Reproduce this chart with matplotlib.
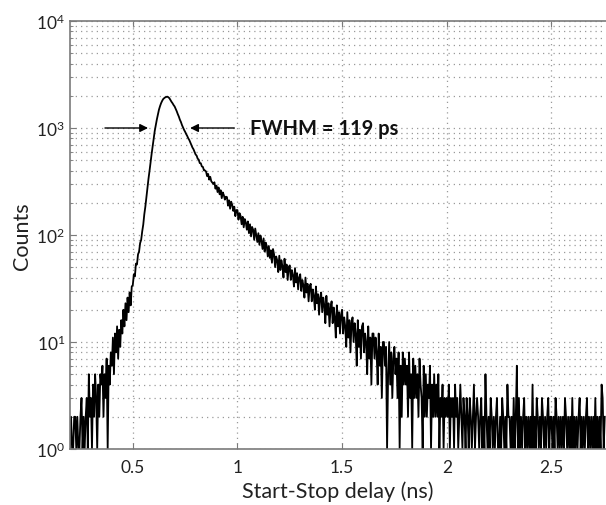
import numpy as np
import matplotlib
matplotlib.use("Agg")
import matplotlib.pyplot as plt

plt.rcParams['font.family'] = ['Lato', 'DejaVu Sans']
plt.rcParams['mathtext.fontset'] = 'custom'
plt.rcParams['mathtext.rm'] = 'Lato'
plt.rcParams['mathtext.it'] = 'Lato'
plt.rcParams['mathtext.bf'] = 'Lato:bold'

# histogram bins (ns)
bin_start = 0.200
bin_width = 0.005

# counts per bin, grouped per 0.05 ns
counts_rise_low = [
    1, 2, 1, 1, 2, 2, 1, 2, 1, 1,
    2, 3, 1, 2, 1, 2, 3, 1, 5, 2,
    3, 1, 4, 2, 5, 3, 1, 4, 2, 5,
    4, 6, 2, 5, 3, 7, 1, 6, 4, 8,
]
counts_rise = [
    6, 11, 5, 12, 8, 14, 7, 13, 9, 16,
    12, 20, 14, 23, 16, 26, 19, 29, 22, 33,
    34, 43, 41, 54, 53, 66, 70, 84, 90, 108,
    125, 156, 184, 226, 273, 335, 398, 482, 573, 682,
    798, 942, 1068, 1203, 1338, 1482, 1597, 1702, 1788, 1861,
]
counts_peak = [
    1902, 1934, 1951, 1963, 1938, 1897, 1826, 1757, 1703, 1638,
    1588, 1507, 1433, 1348, 1279, 1196, 1138, 1066, 1012, 961,
    922, 878, 843, 801, 772, 733, 694, 657, 633, 598,
    566, 552, 517, 506, 470, 468, 437, 433, 402, 401,
]
counts_decay = [
    392, 355, 372, 329, 350, 318, 309, 300, 311, 271,
    289, 252, 278, 240, 262, 221, 250, 236, 214, 228,
    226, 188, 211, 176, 205, 192, 168, 184, 150, 171,
    171, 139, 160, 151, 126, 148, 118, 141, 131, 112,
    134, 104, 126, 97, 119, 112, 90, 115, 99, 86,
    104, 81, 99, 88, 74, 93, 70, 85, 79, 63,
    79, 61, 72, 55, 74, 66, 50, 63, 58, 45,
    64, 47, 58, 51, 40, 60, 45, 53, 38, 50,
    52, 38, 47, 42, 33, 49, 36, 44, 31, 40,
    43, 30, 38, 34, 26, 40, 29, 35, 24, 33,
    35, 24, 31, 27, 20, 33, 23, 28, 18, 26,
    29, 19, 26, 22, 15, 27, 18, 23, 14, 21,
    24, 15, 21, 17, 11, 22, 14, 19, 12, 18,
    20, 12, 17, 14, 9, 19, 11, 16, 8, 15,
    17, 10, 15, 12, 6, 16, 9, 13, 7, 14,
    15, 8, 12, 10, 5, 14, 7, 11, 4, 12,
    12, 7, 11, 8, 4, 12, 6, 9, 3, 10,
    10, 6, 9, 1, 5, 10, 4, 8, 3, 7,
    9, 5, 7, 3, 8, 1, 6, 2, 8, 4,
    7, 4, 6, 2, 8, 3, 5, 1, 7, 3,
    6, 3, 5, 2, 7, 4, 3, 1, 6, 2,
    5, 2, 4, 3, 6, 1, 4, 2, 5, 2,
    4, 2, 5, 1, 3, 2, 4, 1, 3, 2,
]
counts_tail = [
    3, 2, 4, 1, 3, 2, 3, 1, 4, 2,
    3, 1, 2, 4, 2, 1, 3, 2, 1, 3,
    2, 1, 3, 2, 1, 2, 4, 1, 2, 3,
    2, 1, 2, 3, 1, 2, 1, 5, 2, 1,
    2, 1, 3, 2, 1, 2, 1, 2, 3, 1,
    1, 2, 1, 3, 2, 1, 2, 1, 4, 2,
    2, 1, 2, 1, 3, 1, 2, 6, 1, 3,
    1, 2, 1, 2, 3, 1, 2, 1, 2, 1,
    2, 1, 4, 1, 2, 1, 3, 2, 1, 2,
    1, 3, 2, 1, 2, 1, 2, 3, 1, 2,
    2, 1, 2, 1, 3, 2, 1, 2, 1, 2,
    1, 2, 1, 3, 2, 1, 2, 1, 2, 1,
    3, 1, 2, 1, 2, 1, 2, 3, 1, 2,
    1, 2, 1, 2, 3, 1, 2, 1, 2, 1,
    2, 1, 3, 1, 2, 1, 2, 1, 4, 3,
    1, 2,
]

counts = np.array(counts_rise_low + counts_rise + counts_peak + counts_decay + counts_tail, dtype=float)
delay = bin_start + bin_width * np.arange(len(counts))

x_ticks = [0.5, 1, 1.5, 2, 2.5]
x_ticklabels = ['0.5', '1', '1.5', '2', '2.5']
y_ticks = [1, 10, 100, 1000, 10000]
y_ticklabels = [r'$10^0$', r'$10^1$', r'$10^2$', r'$10^3$', r'$10^4$']

fwhm_label = 'FWHM = 119 ps'
x_label = 'Start-Stop delay (ns)'
y_label = 'Counts'

fig = plt.figure(figsize=(6.06, 5.06), dpi=100)
ax = fig.add_axes([70 / 606, 56 / 506, 536 / 606, 428 / 506])

ax.plot(delay, counts, color='black', linewidth=1.3)
ax.set_yscale('log')
ax.set_xlim(0.2, 2.761)
ax.set_ylim(1, 10000)

ax.set_xticks(x_ticks)
ax.set_xticklabels(x_ticklabels)
ax.set_yticks(y_ticks)
ax.set_yticklabels(y_ticklabels)

grid_kw = dict(color='#9a9a9a', linestyle=(0, (1, 3.2)), linewidth=0.9)
ax.grid(True, which='major', axis='both', **grid_kw)
ax.grid(True, which='minor', axis='y', **grid_kw)

for s in ['left', 'bottom', 'top']:
    ax.spines[s].set_color('#7a7a7a')
    ax.spines[s].set_linewidth(1.2)
ax.spines['right'].set_visible(False)

ax.tick_params(axis='both', which='both', direction='in', top=True, right=False,
               color='#7a7a7a', labelsize=12.5, labelcolor='#222222')
ax.tick_params(axis='both', which='major', length=4)
ax.tick_params(axis='y', which='minor', length=2)
ax.tick_params(axis='x', which='major', pad=7)

ax.set_xlabel(x_label, fontsize=15.5, color='#222222', labelpad=4)
ax.set_ylabel(y_label, fontsize=15.5, color='#222222', labelpad=3)

ax.annotate('', xy=(0.573, 1000), xytext=(0.367, 1000),
            arrowprops=dict(arrowstyle='-|>', color='black', lw=1.0, mutation_scale=12,
                            shrinkA=0, shrinkB=0))
ax.annotate('', xy=(0.774, 1000), xytext=(0.985, 1000),
            arrowprops=dict(arrowstyle='-|>', color='black', lw=1.0, mutation_scale=12,
                            shrinkA=0, shrinkB=0))
ax.text(1.06, 1000, fwhm_label, fontsize=14.5, fontweight='bold', color='#111111',
        va='center', ha='left')

fig.savefig('out.png', dpi=100, facecolor='white')
